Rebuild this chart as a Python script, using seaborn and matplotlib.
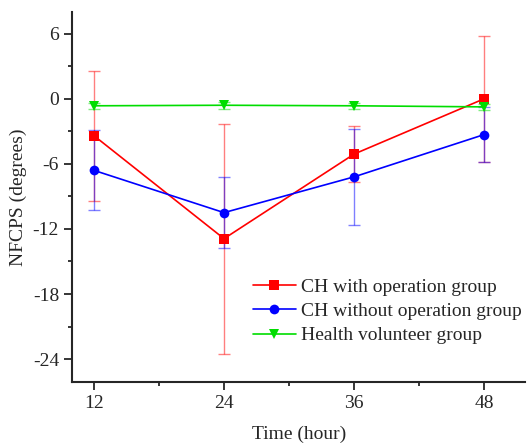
import pandas as pd
import matplotlib
matplotlib.use("Agg")
import matplotlib.pyplot as plt
from matplotlib.ticker import MultipleLocator
import seaborn as sns

# === Data ===
hours = [12, 24, 36, 48]
groups = ["CH with operation group", "CH without operation group", "Health volunteer group"]
with_op_mean = [-3.4, -12.9, -5.1, 0.0]
with_op_sd = [6.0, 10.6, 2.6, 5.8]
without_op_mean = [-6.6, -10.5, -7.2, -3.3]
without_op_sd = [3.7, 3.3, 4.4, 2.5]
volunteer_mean = [-0.65, -0.6, -0.65, -0.75]
volunteer_sd = [0.3, 0.3, 0.3, 0.3]

means = [with_op_mean, without_op_mean, volunteer_mean]
sds = [with_op_sd, without_op_sd, volunteer_sd]
colors = ["#ff0000", "#0000ff", "#00dd00"]
markers = ["s", "o", "v"]

df = pd.DataFrame({
    "hour": hours * 3,
    "value": with_op_mean + without_op_mean + volunteer_mean,
    "group": [g for g in groups for _ in hours],
})

sns.set_style("ticks")
plt.rcParams["font.family"] = ["Liberation Serif", "DejaVu Serif"]
plt.rcParams["axes.unicode_minus"] = False

fig = plt.figure(figsize=(5.27, 4.43), dpi=100)
ax = fig.add_axes([0.137, 0.138, 0.86, 0.835])

# error bars first, lighter
for m, s, c in zip(means, sds, colors):
    ax.errorbar(hours, m, yerr=s, fmt="none", ecolor=c, alpha=0.5,
                elinewidth=1, capsize=4, capthick=1, zorder=1)

sns.lineplot(data=df, x="hour", y="value", hue="group", style="group",
             palette=dict(zip(groups, colors)), markers=dict(zip(groups, markers)),
             dashes=False, markersize=7, markeredgewidth=0, linewidth=1.2,
             ax=ax, zorder=2)

ax.set_xlim(10, 51.8)
ax.set_ylim(-26.1, 8.0)
ax.set_xticks(hours)
ax.xaxis.set_minor_locator(MultipleLocator(6))
ax.yaxis.set_major_locator(MultipleLocator(6))
ax.yaxis.set_minor_locator(MultipleLocator(3))
ax.tick_params(axis="both", which="major", length=6, width=1.3, labelsize=14, direction="out")
ax.tick_params(axis="both", which="minor", length=3, width=1.3, direction="out")
ax.set_xlabel("Time (hour)", fontsize=14, labelpad=10)
ax.set_ylabel("NFCPS (degrees)", fontsize=14, labelpad=4)

sns.despine(ax=ax)
ax.spines["left"].set_linewidth(1.5)
ax.spines["bottom"].set_linewidth(1.5)

handles, labels = ax.get_legend_handles_labels()
ax.legend(handles, labels, loc="lower right", bbox_to_anchor=(1.01, 0.08),
          frameon=False, fontsize=14, handlelength=2.2, handletextpad=0.3,
          labelspacing=0.35, borderaxespad=0)

fig.savefig("out.png", dpi=100)
